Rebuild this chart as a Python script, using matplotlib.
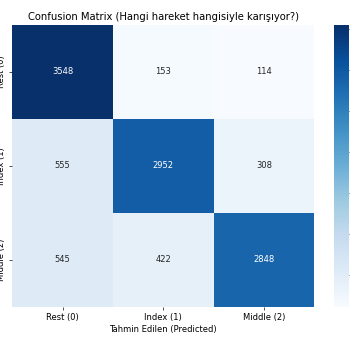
import numpy as np
import matplotlib
matplotlib.use("Agg")
import matplotlib.pyplot as plt

# gesture classes and confusion counts (rows: actual, cols: predicted)
classes = ["Rest (0)", "Index (1)", "Middle (2)"]
cm = np.array([
    [3548, 153, 114],
    [555, 2952, 308],
    [545, 422, 2848],
])

W = H = 350
fig = plt.figure(figsize=(W / 60, H / 60), dpi=60)
ax = fig.add_axes([12.3 / W, 1 - 307 / H, 302 / W, 282 / H])
cax = fig.add_axes([334 / W, 1 - 307 / H, 15 / W, 282 / H])

cmap = plt.get_cmap("Blues")
norm = matplotlib.colors.Normalize(vmin=cm.min(), vmax=cm.max())
mesh = ax.pcolormesh(cm, cmap=cmap, norm=norm)
ax.set_xlim(0, 3)
ax.set_ylim(3, 0)

# annotate cells, light text on dark cells
for i in range(cm.shape[0]):
    for j in range(cm.shape[1]):
        r, g, b, _ = cmap(norm(cm[i, j]))
        lum = 0.2126 * r + 0.7152 * g + 0.0722 * b
        color = ".15" if lum > 0.408 else "w"
        ax.text(j + 0.5, i + 0.5, str(cm[i, j]), ha="center", va="center",
                color=color, fontsize=10)

ax.set_xticks(np.arange(3) + 0.5)
ax.set_xticklabels(classes)
ax.set_yticks(np.arange(3) + 0.5)
ax.set_yticklabels(classes, rotation=90, va="center")
for s in ax.spines.values():
    s.set_visible(False)
ax.set_xlabel("Tahmin Edilen (Predicted)")
ax.set_ylabel("Gerçek (Actual)")
ax.set_title("Confusion Matrix (Hangi hareket hangisiyle karışıyor?)")

cb = fig.colorbar(mesh, cax=cax)
cb.outline.set_visible(False)
cb.set_ticks([500, 1000, 1500, 2000, 2500, 3000, 3500])

fig.savefig("out.png", dpi=60)
